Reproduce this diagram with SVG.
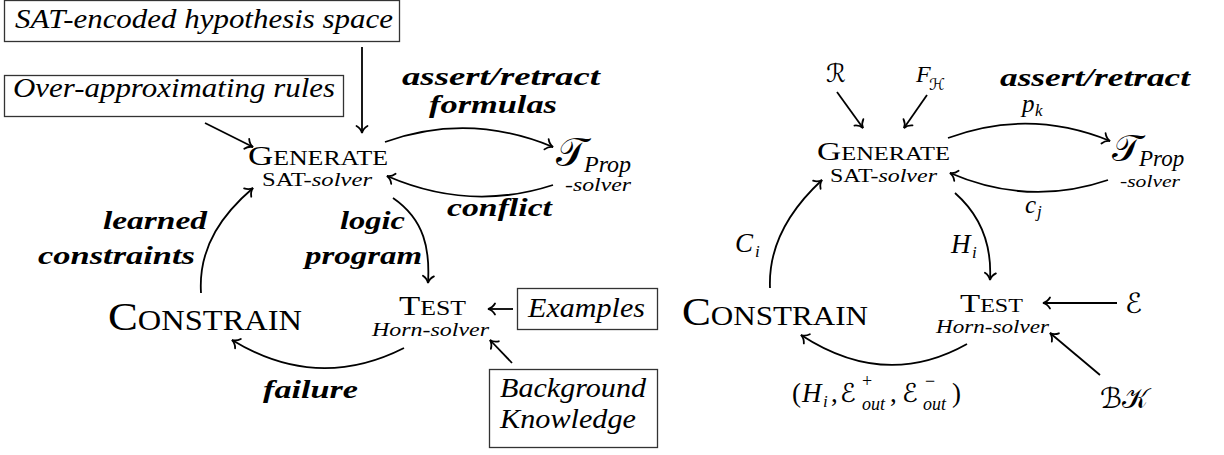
<svg xmlns="http://www.w3.org/2000/svg" width="1224" height="455" viewBox="0 0 1224 455">
  <style>
    .box { fill: #fff; stroke: #333; stroke-width: 1.3; }
    .edge { fill: none; stroke: #000; stroke-width: 1.8; marker-end: url(#tip); }
  </style>
  <defs>
    <marker id="tip" markerUnits="userSpaceOnUse" viewBox="-10 -8 12 16" refX="0" refY="0" markerWidth="12" markerHeight="16" orient="auto" overflow="visible">
      <path d="M-7,-5.5 C-5,-2 -2,-0.5 0,0 C-2,0.5 -5,2 -7,5.5" fill="none" stroke="#000" stroke-width="1.8" stroke-linecap="round"/>
    </marker>
  </defs>

  <!-- left: descriptive cycle -->
  <g id="hyp-space">
    <rect class="box" x="4.5" y="0.5" width="395" height="41"/>
    <text font-family="Liberation Serif" font-style="italic" x="15" y="28" font-size="27" textLength="378" lengthAdjust="spacingAndGlyphs">SAT-encoded hypothesis space</text>
  </g>
  <g id="over-approx">
    <rect class="box" x="4.5" y="75.5" width="339" height="41"/>
    <text font-family="Liberation Serif" font-style="italic" x="13" y="97" font-size="27" textLength="322" lengthAdjust="spacingAndGlyphs">Over-approximating rules</text>
  </g>
  <g id="generate-l">
    <text font-family="Liberation Serif" x="248" y="165" textLength="140" lengthAdjust="spacingAndGlyphs"><tspan font-size="27">G</tspan><tspan font-size="20">ENERATE</tspan></text>
    <text font-family="Liberation Serif" x="262" y="186" font-size="18" textLength="110" lengthAdjust="spacingAndGlyphs">SAT-<tspan font-style="italic">solver</tspan></text>
  </g>
  <g id="tprop-l">
    <text font-family="Liberation Serif" x="556" y="166" font-size="24"><tspan font-family="DejaVu Sans" font-size="40">𝒯</tspan><tspan x="584" y="172" font-style="italic">Prop</tspan></text>
    <text font-family="Liberation Serif" font-style="italic" x="565" y="191" font-size="18" textLength="66" lengthAdjust="spacingAndGlyphs">-solver</text>
  </g>
  <g id="test-l">
    <text font-family="Liberation Serif" x="399" y="315" textLength="67" lengthAdjust="spacingAndGlyphs"><tspan font-size="27">T</tspan><tspan font-size="20">EST</tspan></text>
    <text font-family="Liberation Serif" font-style="italic" x="372" y="336" font-size="18" textLength="117" lengthAdjust="spacingAndGlyphs">Horn-solver</text>
  </g>
  <g id="constrain-l">
    <text font-family="Liberation Serif" x="108" y="330" textLength="194" lengthAdjust="spacingAndGlyphs"><tspan font-size="40">C</tspan><tspan font-size="29">ONSTRAIN</tspan></text>
  </g>
  <g id="examples">
    <rect class="box" x="517.5" y="288.5" width="140" height="41"/>
    <text font-family="Liberation Serif" font-style="italic" x="528" y="317" font-size="27" textLength="117" lengthAdjust="spacingAndGlyphs">Examples</text>
  </g>
  <g id="background">
    <rect class="box" x="489.5" y="369.5" width="168" height="78"/>
    <text font-family="Liberation Serif" font-style="italic" x="500" y="397" font-size="27" textLength="146" lengthAdjust="spacingAndGlyphs">Background</text>
    <text font-family="Liberation Serif" font-style="italic" x="500" y="428" font-size="27" textLength="136" lengthAdjust="spacingAndGlyphs">Knowledge</text>
  </g>
  <g id="labels-l" font-size="26">
    <text font-family="Liberation Serif" font-style="italic" font-weight="bold" x="402" y="85" textLength="198" lengthAdjust="spacingAndGlyphs">assert/retract</text>
    <text font-family="Liberation Serif" font-style="italic" font-weight="bold" x="429" y="113" textLength="128" lengthAdjust="spacingAndGlyphs">formulas</text>
    <text font-family="Liberation Serif" font-style="italic" font-weight="bold" x="447" y="216" textLength="105" lengthAdjust="spacingAndGlyphs">conflict</text>
    <text font-family="Liberation Serif" font-style="italic" font-weight="bold" x="340" y="229" textLength="65" lengthAdjust="spacingAndGlyphs">logic</text>
    <text font-family="Liberation Serif" font-style="italic" font-weight="bold" x="305" y="264" textLength="117" lengthAdjust="spacingAndGlyphs">program</text>
    <text font-family="Liberation Serif" font-style="italic" font-weight="bold" x="103" y="229" textLength="104" lengthAdjust="spacingAndGlyphs">learned</text>
    <text font-family="Liberation Serif" font-style="italic" font-weight="bold" x="38" y="264" textLength="157" lengthAdjust="spacingAndGlyphs">constraints</text>
    <text font-family="Liberation Serif" font-style="italic" font-weight="bold" x="263" y="398" textLength="95" lengthAdjust="spacingAndGlyphs">failure</text>
  </g>

  <!-- right: symbolic cycle -->
  <g id="rules-r">
    <text font-family="DejaVu Sans" x="826" y="82" font-size="25">ℛ</text>
  </g>
  <g id="fh-r">
    <text font-family="Liberation Serif" font-style="italic" x="916" y="82" font-size="24">F<tspan x="929" y="90" font-family="DejaVu Sans" font-style="normal" font-size="16">ℋ</tspan></text>
  </g>
  <g id="generate-r">
    <text font-family="Liberation Serif" x="817" y="160" textLength="133" lengthAdjust="spacingAndGlyphs"><tspan font-size="26">G</tspan><tspan font-size="19">ENERATE</tspan></text>
    <text font-family="Liberation Serif" x="830" y="182" font-size="18" textLength="107" lengthAdjust="spacingAndGlyphs">SAT-<tspan font-style="italic">solver</tspan></text>
  </g>
  <g id="tprop-r">
    <text font-family="Liberation Serif" x="1112" y="161" font-size="23"><tspan font-family="DejaVu Sans" font-size="38">𝒯</tspan><tspan x="1139" y="166" font-style="italic">Prop</tspan></text>
    <text font-family="Liberation Serif" font-style="italic" x="1120" y="187" font-size="17" textLength="60" lengthAdjust="spacingAndGlyphs">-solver</text>
  </g>
  <g id="test-r">
    <text font-family="Liberation Serif" x="960" y="312" textLength="63" lengthAdjust="spacingAndGlyphs"><tspan font-size="26">T</tspan><tspan font-size="19">EST</tspan></text>
    <text font-family="Liberation Serif" font-style="italic" x="936" y="333" font-size="18" textLength="113" lengthAdjust="spacingAndGlyphs">Horn-solver</text>
  </g>
  <g id="constrain-r">
    <text font-family="Liberation Serif" x="682" y="325" textLength="186" lengthAdjust="spacingAndGlyphs"><tspan font-size="39">C</tspan><tspan font-size="28">ONSTRAIN</tspan></text>
  </g>
  <g id="examples-r">
    <text font-family="DejaVu Sans" x="1125" y="313" font-size="28">ℰ</text>
  </g>
  <g id="bk-r">
    <text font-family="DejaVu Sans" x="1100" y="408" font-size="28">ℬ𝒦</text>
  </g>
  <g id="labels-r">
    <text font-family="Liberation Serif" font-style="italic" font-weight="bold" font-size="26" x="1000" y="86" textLength="190" lengthAdjust="spacingAndGlyphs">assert/retract</text>
    <text font-family="Liberation Serif" font-style="italic" x="1022" y="112" font-size="25">p<tspan x="1035" y="116" font-size="17">k</tspan></text>
    <text font-family="Liberation Serif" font-style="italic" x="1025" y="213" font-size="25">c<tspan x="1037" y="217" font-size="17">j</tspan></text>
    <text font-family="Liberation Serif" font-style="italic" x="951" y="253" font-size="27">H<tspan x="972" y="258" font-size="17">i</tspan></text>
    <text font-family="Liberation Serif" font-style="italic" x="735" y="252" font-size="27">C<tspan x="755" y="257" font-size="17">i</tspan></text>
    <text font-family="Liberation Serif" x="792" y="402" font-size="27">(<tspan x="802" font-style="italic">H</tspan><tspan x="823" y="407" font-size="17" font-style="italic">i</tspan><tspan x="831" y="402">,</tspan><tspan x="840" font-family="DejaVu Sans" font-size="26">ℰ</tspan><tspan x="862" y="387" font-size="18">+</tspan><tspan x="862" y="410" font-size="18" font-style="italic">out</tspan><tspan x="890" y="402">,</tspan><tspan x="902" font-family="DejaVu Sans" font-size="26">ℰ</tspan><tspan x="925" y="387" font-size="18">−</tspan><tspan x="923" y="410" font-size="18" font-style="italic">out</tspan><tspan x="952" y="402">)</tspan></text>
  </g>

  <g id="connectors">
    <!-- left -->
    <path class="edge" d="M362,47 L362,133"/>
    <path class="edge" d="M205,123 L253,147"/>
    <path class="edge" d="M385,142 Q469,112 553,147"/>
    <path class="edge" d="M553,185 Q470,212 387,176"/>
    <path class="edge" d="M393,198 C425,220 430,250 428,283"/>
    <path class="edge" d="M201,293 C198,245 225,212 253,188"/>
    <path class="edge" d="M404,348 Q317,392 232,340"/>
    <path class="edge" d="M513,309 L488,309"/>
    <path class="edge" d="M512,363 L490,340"/>
    <!-- right -->
    <path class="edge" d="M837,92 L863,128"/>
    <path class="edge" d="M927,95 L904,128"/>
    <path class="edge" d="M948,138 Q1029,108 1110,141"/>
    <path class="edge" d="M1108,180 Q1029,207 950,173"/>
    <path class="edge" d="M955,193 C980,215 992,245 990,280"/>
    <path class="edge" d="M770,288 C768,240 795,205 822,180"/>
    <path class="edge" d="M1117,303 L1043,303"/>
    <path class="edge" d="M1100,375 L1050,333"/>
    <path class="edge" d="M967,344 Q885,390 801,335"/>
  </g>
</svg>
